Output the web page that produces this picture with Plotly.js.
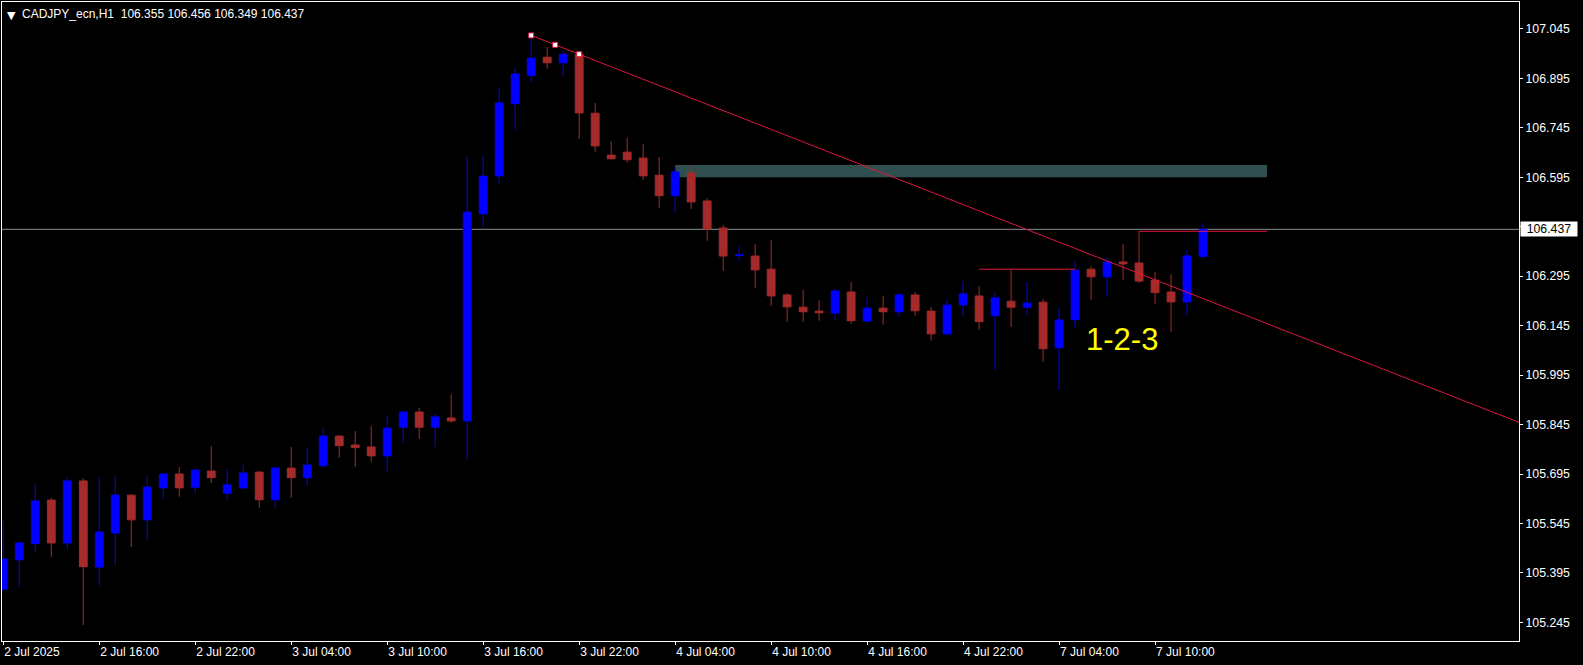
<!DOCTYPE html>
<html><head><meta charset="utf-8">
<script src="https://cdn.plot.ly/plotly-3.0.1.min.js"></script>
<style>html,body{margin:0;padding:0;background:#000;overflow:hidden}</style>
</head><body><div id="chart" style="width:1583px;height:665px"></div>
<script>
const symbol = "CADJPY_ecn,H1";
const openP = [105.346,105.435,105.484,105.616,105.486,105.674,105.413,105.516,105.631,105.556,
105.653,105.695,105.655,105.704,105.637,105.653,105.701,105.617,105.713,105.684,
105.720,105.810,105.783,105.777,105.750,105.837,105.883,105.837,105.865,105.856,
106.484,106.599,106.818,106.903,106.959,106.942,106.967,106.789,106.662,106.671,
106.653,106.601,106.539,106.608,106.523,106.441,106.358,106.356,106.316,106.238,
106.201,106.189,106.183,106.247,106.159,106.198,106.187,106.238,106.189,106.120,
106.208,106.235,106.175,106.219,106.201,106.216,106.078,106.163,106.316,106.293,
106.338,106.335,106.283,106.247,106.217,106.355];
const highP = [105.553,105.489,105.668,105.622,105.685,105.682,105.685,105.691,105.634,105.689,
105.698,105.716,105.709,105.780,105.710,105.722,105.703,105.719,105.777,105.774,
105.834,105.812,105.825,105.840,105.871,105.885,105.895,105.877,105.937,106.657,
106.659,106.867,106.926,107.025,106.990,106.980,106.970,106.820,106.704,106.714,
106.695,106.656,106.626,106.632,106.532,106.450,106.386,106.392,106.404,106.243,
106.253,106.222,106.256,106.277,106.231,106.235,106.244,106.247,106.201,106.225,
106.280,106.265,106.245,106.316,106.277,106.225,106.198,106.341,106.325,106.353,
106.392,106.431,106.307,106.301,106.374,106.456];
const lowP = [105.343,105.353,105.459,105.444,105.465,105.237,105.356,105.417,105.474,105.496,
105.620,105.626,105.635,105.668,105.614,105.649,105.593,105.593,105.623,105.659,
105.714,105.744,105.717,105.732,105.702,105.790,105.801,105.777,105.850,105.740,
106.445,106.575,106.739,106.884,106.924,106.903,106.711,106.672,106.648,106.639,
106.587,106.502,106.487,106.499,106.402,106.311,106.339,106.260,106.205,106.157,
106.157,106.160,106.160,106.151,106.156,106.148,106.172,106.175,106.099,106.114,
106.172,106.132,106.011,106.141,106.177,106.035,105.950,106.138,106.223,106.232,
106.284,106.275,106.211,106.126,106.177,106.349];
const closeP = [105.437,105.486,105.613,105.486,105.674,105.414,105.519,105.631,105.556,105.655,
105.695,105.653,105.707,105.684,105.662,105.698,105.617,105.713,105.684,105.722,
105.810,105.781,105.775,105.750,105.834,105.883,105.837,105.868,105.856,106.489,
106.598,106.820,106.908,106.956,106.942,106.968,106.790,106.690,106.651,106.648,
106.599,106.539,106.611,106.520,106.438,106.356,106.359,106.314,106.235,106.202,
106.187,106.184,106.250,106.160,106.198,106.187,106.238,106.190,106.120,106.207,
106.241,106.157,106.229,106.201,106.213,106.075,106.162,106.313,106.293,106.338,
106.332,106.280,106.245,106.217,106.356,106.437];

const tickIndex = [0,6,12,18,24,30,36,42,48,54,60,66,72];
const tickLabels = ["2 Jul 2025","2 Jul 16:00","2 Jul 22:00","3 Jul 04:00","3 Jul 10:00",
  "3 Jul 16:00","3 Jul 22:00","4 Jul 04:00","4 Jul 10:00","4 Jul 16:00","4 Jul 22:00",
  "7 Jul 04:00","7 Jul 10:00"];
const priceTicks = [107.045,106.895,106.745,106.595,106.445,106.295,106.145,105.995,
  105.845,105.695,105.545,105.395,105.245];

const trendX = [33, 36];
const trendY = [107.025, 106.968];
const levelX0 = [61, 71];
const levelX1 = [67, 79];
const levelY = [106.316, 106.431];
const zoneX = [42, 79];
const zoneY = [106.595, 106.632];
const patternLabel = "1-2-3";
const patternX = 67.55;
const patternY = 106.103;

const xRange = [-0.081, 94.75];
const yRange = [105.1887, 107.1263];

const idx = openP.map((_, i) => i);
const last = openP.length - 1;
const bidPrice = closeP[last];

const UP = '#0000FF', DN = '#A52A2A', TL = '#E0163C';

const slope = (trendY[1] - trendY[0]) / (trendX[1] - trendX[0]);
const trendLineX = [trendX[0], xRange[1] + 1];
const trendLineY = [trendY[0], trendY[0] + slope * (xRange[1] + 1 - trendX[0])];
const midX = (trendX[0] + trendX[1]) / 2;
const midY = (trendY[0] + trendY[1]) / 2;

const traces = [
  {type:'candlestick', x: idx, open: openP, high: highP, low: lowP, close: closeP,
   increasing:{line:{color:UP, width:1}, fillcolor:UP},
   decreasing:{line:{color:DN, width:1}, fillcolor:DN},
   whiskerwidth:0, showlegend:false, hoverinfo:'none'},
  {type:'scatter', mode:'lines', x: trendLineX, y: trendLineY,
   line:{color:TL, width:1}, showlegend:false, hoverinfo:'none'},
  {type:'scatter', mode:'markers', x:[trendX[0], midX, trendX[1]], y:[trendY[0], midY, trendY[1]],
   marker:{symbol:'square', size:5, color:'#FFFFFF', line:{color:TL, width:1}},
   showlegend:false, hoverinfo:'none', cliponaxis:false}
];

const shapes = [
  {type:'rect', xref:'x', yref:'y', x0: zoneX[0], x1: zoneX[1], y0: zoneY[0], y1: zoneY[1],
   fillcolor:'#2F4F4F', line:{width:0}, layer:'below'},
  {type:'line', xref:'paper', yref:'y', x0:0, x1:1, y0:bidPrice, y1:bidPrice,
   line:{color:'#8A8F96', width:1}, layer:'below'}
];
levelY.forEach((p, i) => {
  shapes.push({type:'line', xref:'x', yref:'y', x0: levelX0[i], x1: levelX1[i], y0:p, y1:p,
    line:{color:TL, width:1}, layer:'above'});
});

const plotLeft = 2, plotW = 1517.3;
const px = v => (v - plotLeft) / plotW;

const annotations = [
  {xref:'paper', yref:'paper', x: px(5), y: 1, xanchor:'left', yanchor:'top', yshift:-5,
   text:'\u25BC', showarrow:false, font:{family:'DejaVu Sans', size:11, color:'#FFFFFF'}},
  {xref:'paper', yref:'paper', x: px(20), y: 1, xanchor:'left', yanchor:'top', yshift:-3,
   text: symbol + '\u00a0\u00a0' + [openP[last], highP[last], lowP[last], closeP[last]].map(v => v.toFixed(3)).join(' '),
   showarrow:false, font:{family:'Liberation Sans', size:12, color:'#FFFFFF'}},
  {xref:'x', yref:'y', x: patternX, y: patternY, xanchor:'left', yanchor:'middle',
   text: patternLabel, showarrow:false, font:{family:'Liberation Sans', size:31, color:'#FFFF00'}},
  {xref:'paper', yref:'y', x: 1, y: bidPrice, xanchor:'left', yanchor:'middle', xshift:1,
   text: bidPrice.toFixed(3), showarrow:false, bgcolor:'#FFFFFF', borderpad:0,
   width:56, height:14, align:'center',
   font:{family:'Liberation Sans', size:12.3, color:'#000000'}}
];

const layout = {
  width:1583, height:665,
  margin:{l:2, r:64, t:2, b:24, pad:0},
  paper_bgcolor:'#000000', plot_bgcolor:'#000000',
  showlegend:false, hovermode:false, dragmode:false,
  xaxis:{range:xRange, type:'linear', rangeslider:{visible:false},
    tickmode:'array', tickvals:tickIndex, ticktext:tickLabels,
    ticks:'outside', ticklen:3, tickcolor:'#FFFFFF', tickwidth:1,
    ticklabelposition:'outside right',
    showgrid:false, zeroline:false, showline:true, mirror:true, linecolor:'#FFFFFF', linewidth:1,
    tickfont:{family:'Liberation Sans', size:12, color:'#FFFFFF'}, fixedrange:true},
  yaxis:{range:yRange, side:'right', tickmode:'array', tickvals:priceTicks,
    ticktext: priceTicks.map(v => v.toFixed(3)),
    ticks:'outside', ticklen:3, tickcolor:'#FFFFFF', tickwidth:1,
    showgrid:false, zeroline:false, showline:true, mirror:true, linecolor:'#FFFFFF', linewidth:1,
    tickfont:{family:'Liberation Sans', size:12.3, color:'#FFFFFF'}, fixedrange:true},
  shapes: shapes,
  annotations: annotations
};

Plotly.newPlot('chart', traces, layout, {displayModeBar:false, staticPlot:true});
</script></body></html>
